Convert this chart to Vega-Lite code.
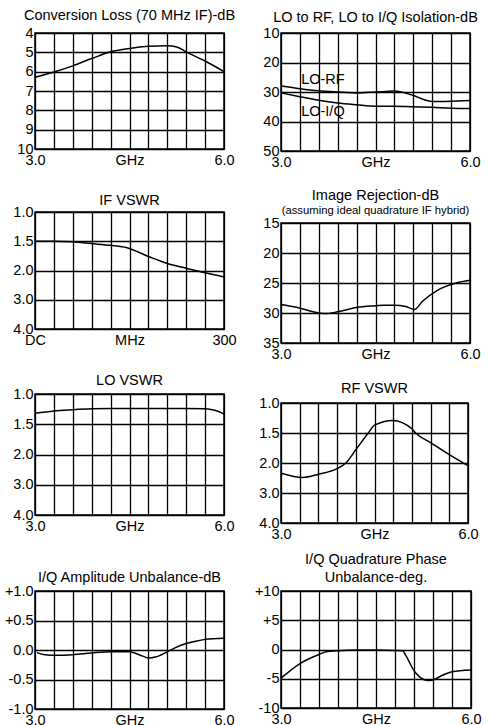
{
  "$schema": "https://vega.github.io/schema/vega-lite/v6.json",
  "background": "white",
  "padding": {"left": 2, "top": 6, "right": 0, "bottom": 0},
  "datasets": {
    "conv": [
      {"ghz": 3.0, "db": 6.29}, {"ghz": 3.3, "db": 6.02}, {"ghz": 3.6, "db": 5.7},
      {"ghz": 3.9, "db": 5.32}, {"ghz": 4.2, "db": 4.97}, {"ghz": 4.5, "db": 4.8},
      {"ghz": 4.8, "db": 4.68}, {"ghz": 5.1, "db": 4.66}, {"ghz": 5.25, "db": 4.72},
      {"ghz": 5.4, "db": 4.98}, {"ghz": 5.7, "db": 5.45}, {"ghz": 6.0, "db": 6.0}
    ],
    "iso": [
      {"s": "LO-RF", "ghz": 3.0, "db": 28.0}, {"s": "LO-RF", "ghz": 3.3, "db": 28.9},
      {"s": "LO-RF", "ghz": 3.6, "db": 29.6}, {"s": "LO-RF", "ghz": 3.9, "db": 30.0},
      {"s": "LO-RF", "ghz": 4.2, "db": 30.3}, {"s": "LO-RF", "ghz": 4.5, "db": 30.0},
      {"s": "LO-RF", "ghz": 4.8, "db": 29.7}, {"s": "LO-RF", "ghz": 5.1, "db": 31.2},
      {"s": "LO-RF", "ghz": 5.3, "db": 32.8}, {"s": "LO-RF", "ghz": 5.4, "db": 33.2},
      {"s": "LO-RF", "ghz": 5.7, "db": 33.1}, {"s": "LO-RF", "ghz": 6.0, "db": 32.9},
      {"s": "LO-I/Q", "ghz": 3.0, "db": 30.3}, {"s": "LO-I/Q", "ghz": 3.3, "db": 31.6},
      {"s": "LO-I/Q", "ghz": 3.6, "db": 32.8}, {"s": "LO-I/Q", "ghz": 3.9, "db": 33.7},
      {"s": "LO-I/Q", "ghz": 4.2, "db": 34.3}, {"s": "LO-I/Q", "ghz": 4.5, "db": 34.8},
      {"s": "LO-I/Q", "ghz": 4.8, "db": 34.8}, {"s": "LO-I/Q", "ghz": 5.1, "db": 35.0},
      {"s": "LO-I/Q", "ghz": 5.4, "db": 35.2}, {"s": "LO-I/Q", "ghz": 5.7, "db": 35.5},
      {"s": "LO-I/Q", "ghz": 6.0, "db": 35.6}
    ],
    "isolabels": [
      {"label": "LO-RF", "ghz": 3.32, "db": 26.0},
      {"label": "LO-I/Q", "ghz": 3.32, "db": 36.7}
    ],
    "ifvswr": [
      {"mhz": 0, "vswr": 1.5}, {"mhz": 30, "vswr": 1.5}, {"mhz": 60, "vswr": 1.51},
      {"mhz": 90, "vswr": 1.54}, {"mhz": 120, "vswr": 1.57}, {"mhz": 146, "vswr": 1.61},
      {"mhz": 180, "vswr": 1.76}, {"mhz": 210, "vswr": 1.88}, {"mhz": 240, "vswr": 1.96},
      {"mhz": 270, "vswr": 2.08}, {"mhz": 300, "vswr": 2.22}
    ],
    "image": [
      {"ghz": 3.0, "db": 28.6}, {"ghz": 3.3, "db": 29.2}, {"ghz": 3.6, "db": 30.0},
      {"ghz": 3.7, "db": 30.1}, {"ghz": 3.9, "db": 29.8}, {"ghz": 4.2, "db": 29.1},
      {"ghz": 4.5, "db": 28.8}, {"ghz": 4.63, "db": 28.7}, {"ghz": 4.8, "db": 28.7},
      {"ghz": 4.98, "db": 28.9}, {"ghz": 5.12, "db": 29.4}, {"ghz": 5.25, "db": 28.0},
      {"ghz": 5.47, "db": 26.3}, {"ghz": 5.78, "db": 25.0}, {"ghz": 6.0, "db": 24.55}
    ],
    "lovswr": [
      {"ghz": 3.0, "vswr": 1.32}, {"ghz": 3.3, "vswr": 1.28}, {"ghz": 3.6, "vswr": 1.26},
      {"ghz": 3.9, "vswr": 1.245}, {"ghz": 4.2, "vswr": 1.24}, {"ghz": 4.5, "vswr": 1.24},
      {"ghz": 4.8, "vswr": 1.24}, {"ghz": 5.1, "vswr": 1.24}, {"ghz": 5.4, "vswr": 1.24},
      {"ghz": 5.7, "vswr": 1.245}, {"ghz": 5.85, "vswr": 1.27}, {"ghz": 6.0, "vswr": 1.33}
    ],
    "rfvswr": [
      {"ghz": 3.0, "vswr": 2.34}, {"ghz": 3.35, "vswr": 2.48}, {"ghz": 3.6, "vswr": 2.375},
      {"ghz": 3.9, "vswr": 2.19}, {"ghz": 4.04, "vswr": 2.0}, {"ghz": 4.2, "vswr": 1.78},
      {"ghz": 4.4, "vswr": 1.5}, {"ghz": 4.5, "vswr": 1.37}, {"ghz": 4.79, "vswr": 1.29},
      {"ghz": 5.1, "vswr": 1.43}, {"ghz": 5.16, "vswr": 1.5}, {"ghz": 5.4, "vswr": 1.66},
      {"ghz": 5.7, "vswr": 1.86}, {"ghz": 6.0, "vswr": 2.09}
    ],
    "amp": [
      {"ghz": 3.03, "db": -0.045}, {"ghz": 3.16, "db": -0.08}, {"ghz": 3.33, "db": -0.09},
      {"ghz": 3.6, "db": -0.08}, {"ghz": 3.9, "db": -0.05}, {"ghz": 4.2, "db": -0.03},
      {"ghz": 4.5, "db": -0.03}, {"ghz": 4.59, "db": -0.055}, {"ghz": 4.7, "db": -0.1},
      {"ghz": 4.8, "db": -0.135}, {"ghz": 4.91, "db": -0.12}, {"ghz": 5.1, "db": -0.03},
      {"ghz": 5.23, "db": 0.04}, {"ghz": 5.4, "db": 0.11}, {"ghz": 5.55, "db": 0.15},
      {"ghz": 5.7, "db": 0.18}, {"ghz": 6.0, "db": 0.2}
    ],
    "phase": [
      {"ghz": 3.0, "deg": -4.9}, {"ghz": 3.3, "deg": -2.4}, {"ghz": 3.6, "deg": -0.85},
      {"ghz": 3.71, "deg": -0.4}, {"ghz": 3.9, "deg": -0.2}, {"ghz": 4.2, "deg": -0.1},
      {"ghz": 4.5, "deg": -0.1}, {"ghz": 4.8, "deg": -0.15}, {"ghz": 4.92, "deg": -0.2},
      {"ghz": 4.97, "deg": -1.0}, {"ghz": 5.1, "deg": -3.6}, {"ghz": 5.18, "deg": -4.6},
      {"ghz": 5.32, "deg": -5.3}, {"ghz": 5.4, "deg": -5.2}, {"ghz": 5.55, "deg": -4.4},
      {"ghz": 5.7, "deg": -3.8}, {"ghz": 6.0, "deg": -3.5}
    ]
  },
  "spacing": 11,
  "hconcat": [
    {
      "spacing": 34,
      "vconcat": [
        {
          "spacing": 23,
          "vconcat": [
            {
              "width": 189, "height": 116,
              "title": {"text": "Conversion Loss (70 MHz IF)-dB", "offset": 2},
              "data": {"name": "conv"},
              "mark": "line",
              "encoding": {
                "x": {"field": "ghz", "type": "quantitative", "title": null,
                      "scale": {"domain": [3, 6], "nice": false, "zero": false},
                      "axis": {"values": [3, 3.3, 3.6, 3.9, 4.2, 4.5, 4.8, 5.1, 5.4, 5.7, 6],
                               "labelExpr": "datum.value == 3 ? '3.0' : datum.value == 6 ? '6.0' : datum.value == 4.5 ? 'GHz' : ''"}},
                "y": {"field": "db", "type": "quantitative", "title": null,
                      "scale": {"domain": [4, 10], "reverse": true, "nice": false, "zero": false},
                      "axis": {"values": [4, 5, 6, 7, 8, 9, 10]}}
              }
            },
            {
              "width": 189, "height": 117,
              "title": {"text": "IF VSWR", "offset": -4},
              "data": {"name": "ifvswr"},
              "mark": "line",
              "encoding": {
                "x": {"field": "mhz", "type": "quantitative", "title": null,
                      "scale": {"domain": [0, 300], "nice": false, "zero": false},
                      "axis": {"values": [0, 30, 60, 90, 120, 150, 180, 210, 240, 270, 300],
                               "labelExpr": "datum.value == 0 ? 'DC' : datum.value == 150 ? 'MHz' : datum.value == 300 ? '300' : ''"}},
                "y": {"field": "vswr", "type": "quantitative", "title": null,
                      "scale": {"domain": [1, 1.5, 2, 3, 4], "range": [0, 29.25, 58.5, 87.75, 117], "nice": false, "zero": false},
                      "axis": {"values": [1, 1.5, 2, 3, 4], "format": ".1f"}}
              }
            },
            {
              "width": 189, "height": 121,
              "title": {"text": "LO VSWR", "offset": -2},
              "data": {"name": "lovswr"},
              "mark": "line",
              "encoding": {
                "x": {"field": "ghz", "type": "quantitative", "title": null,
                      "scale": {"domain": [3, 6], "nice": false, "zero": false},
                      "axis": {"values": [3, 3.3, 3.6, 3.9, 4.2, 4.5, 4.8, 5.1, 5.4, 5.7, 6],
                               "labelExpr": "datum.value == 3 ? '3.0' : datum.value == 6 ? '6.0' : datum.value == 4.5 ? 'GHz' : ''"}},
                "y": {"field": "vswr", "type": "quantitative", "title": null,
                      "scale": {"domain": [1, 1.5, 2, 3, 4], "range": [0, 30.25, 60.5, 90.75, 121], "nice": false, "zero": false},
                      "axis": {"values": [1, 1.5, 2, 3, 4], "format": ".1f"}}
              }
            }
          ]
        },
        {
          "width": 189, "height": 118,
          "title": {"text": "I/Q Amplitude Unbalance-dB", "offset": -2},
          "data": {"name": "amp"},
          "mark": "line",
          "encoding": {
            "x": {"field": "ghz", "type": "quantitative", "title": null,
                  "scale": {"domain": [3, 6], "nice": false, "zero": false},
                  "axis": {"values": [3, 3.3, 3.6, 3.9, 4.2, 4.5, 4.8, 5.1, 5.4, 5.7, 6],
                           "labelExpr": "datum.value == 3 ? '3.0' : datum.value == 6 ? '6.0' : datum.value == 4.5 ? 'GHz' : ''"}},
            "y": {"field": "db", "type": "quantitative", "title": null,
                  "scale": {"domain": [-1, 1], "nice": false, "zero": false},
                  "axis": {"values": [1, 0.5, 0, -0.5, -1],
                           "labelExpr": "datum.value > 0 ? '+' + format(datum.value, '.1f') : datum.value < 0 ? '-' + format(-datum.value, '.1f') : '0.0'"}}
          }
        }
      ]
    },
    {
      "spacing": 8,
      "vconcat": [
        {
          "spacing": 17,
          "vconcat": [
            {
              "width": 189, "height": 118,
              "title": {"text": "LO to RF, LO to I/Q Isolation-dB", "offset": 0},
              "layer": [
                {
                  "data": {"name": "iso"},
                  "mark": "line",
                  "encoding": {
                    "x": {"field": "ghz", "type": "quantitative", "title": null,
                          "scale": {"domain": [3, 6], "nice": false, "zero": false},
                          "axis": {"values": [3, 3.3, 3.6, 3.9, 4.2, 4.5, 4.8, 5.1, 5.4, 5.7, 6],
                                   "labelExpr": "datum.value == 3 ? '3.0' : datum.value == 6 ? '6.0' : datum.value == 4.5 ? 'GHz' : ''"}},
                    "y": {"field": "db", "type": "quantitative", "title": null,
                          "scale": {"domain": [10, 50], "reverse": true, "nice": false, "zero": false},
                          "axis": {"values": [10, 20, 30, 40, 50]}},
                    "detail": {"field": "s", "type": "nominal"}
                  }
                },
                {
                  "data": {"name": "isolabels"},
                  "mark": {"type": "text", "align": "left", "baseline": "middle", "fontSize": 14.5, "fontWeight": "normal", "color": "black"},
                  "encoding": {
                    "x": {"field": "ghz", "type": "quantitative", "title": null,
                          "scale": {"domain": [3, 6], "nice": false, "zero": false},
                          "axis": {"values": [3, 3.3, 3.6, 3.9, 4.2, 4.5, 4.8, 5.1, 5.4, 5.7, 6],
                                   "labelExpr": "datum.value == 3 ? '3.0' : datum.value == 6 ? '6.0' : datum.value == 4.5 ? 'GHz' : ''"}},
                    "y": {"field": "db", "type": "quantitative", "title": null,
                          "scale": {"domain": [10, 50], "reverse": true, "nice": false, "zero": false},
                          "axis": {"values": [10, 20, 30, 40, 50]}},
                    "text": {"field": "label"}
                  }
                }
              ]
            },
            {
              "width": 189, "height": 120,
              "title": {"text": "Image Rejection-dB", "subtitle": "(assuming ideal quadrature IF hybrid)", "offset": -2},
              "data": {"name": "image"},
              "mark": "line",
              "encoding": {
                "x": {"field": "ghz", "type": "quantitative", "title": null,
                      "scale": {"domain": [3, 6], "nice": false, "zero": false},
                      "axis": {"values": [3, 3.3, 3.6, 3.9, 4.2, 4.5, 4.8, 5.1, 5.4, 5.7, 6],
                               "labelExpr": "datum.value == 3 ? '3.0' : datum.value == 6 ? '6.0' : datum.value == 4.5 ? 'GHz' : ''"}},
                "y": {"field": "db", "type": "quantitative", "title": null,
                      "scale": {"domain": [15, 35], "reverse": true, "nice": false, "zero": false},
                      "axis": {"values": [15, 20, 25, 30, 35]}}
              }
            },
            {
              "width": 187, "height": 120,
              "title": {"text": "RF VSWR", "offset": -1},
              "data": {"name": "rfvswr"},
              "mark": "line",
              "encoding": {
                "x": {"field": "ghz", "type": "quantitative", "title": null,
                      "scale": {"domain": [3, 6], "nice": false, "zero": false},
                      "axis": {"values": [3, 3.3, 3.6, 3.9, 4.2, 4.5, 4.8, 5.1, 5.4, 5.7, 6],
                               "labelExpr": "datum.value == 3 ? '3.0' : datum.value == 6 ? '6.0' : datum.value == 4.5 ? 'GHz' : ''"}},
                "y": {"field": "vswr", "type": "quantitative", "title": null,
                      "scale": {"domain": [1, 1.5, 2, 3, 4], "range": [0, 30, 60, 90, 120], "nice": false, "zero": false},
                      "axis": {"values": [1, 1.5, 2, 3, 4], "format": ".1f"}}
              }
            }
          ]
        },
        {
          "width": 190, "height": 117,
          "title": {"text": ["I/Q Quadrature Phase", "Unbalance-deg."], "offset": -2, "lineHeight": 18},
          "data": {"name": "phase"},
          "mark": "line",
          "encoding": {
            "x": {"field": "ghz", "type": "quantitative", "title": null,
                  "scale": {"domain": [3, 6], "nice": false, "zero": false},
                  "axis": {"values": [3, 3.3, 3.6, 3.9, 4.2, 4.5, 4.8, 5.1, 5.4, 5.7, 6],
                           "labelExpr": "datum.value == 3 ? '3.0' : datum.value == 6 ? '6.0' : datum.value == 4.5 ? 'GHz' : ''"}},
            "y": {"field": "deg", "type": "quantitative", "title": null,
                  "scale": {"domain": [-10, 10], "nice": false, "zero": false},
                  "axis": {"values": [10, 5, 0, -5, -10],
                           "labelExpr": "datum.value > 0 ? '+' + datum.value : datum.value < 0 ? '-' + (-datum.value) : '0'"}}
          }
        }
      ]
    }
  ],
  "config": {
    "font": "Liberation Sans",
    "view": {"stroke": "black", "strokeWidth": 1.5},
    "axis": {
      "grid": true, "gridColor": "black", "gridOpacity": 1, "gridWidth": 1.3,
      "domain": false, "ticks": false, "tickSize": 0,
      "labelFont": "Liberation Sans", "labelFontSize": 14.5, "labelFontWeight": "normal", "labelColor": "black",
      "labelOverlap": false, "labelFlush": false
    },
    "axisX": {"labelPadding": 4},
    "axisY": {"labelPadding": 2, "minExtent": 32},
    "title": {
      "font": "Liberation Sans", "fontSize": 14.5, "fontWeight": "normal", "color": "black",
      "anchor": "middle", "frame": "group",
      "subtitleFont": "Liberation Sans", "subtitleFontSize": 11.3, "subtitleColor": "black", "subtitlePadding": 1
    },
    "line": {"color": "black", "strokeWidth": 1.5, "interpolate": "monotone", "clip": true},
    "text": {"font": "Liberation Sans"}
  }
}
